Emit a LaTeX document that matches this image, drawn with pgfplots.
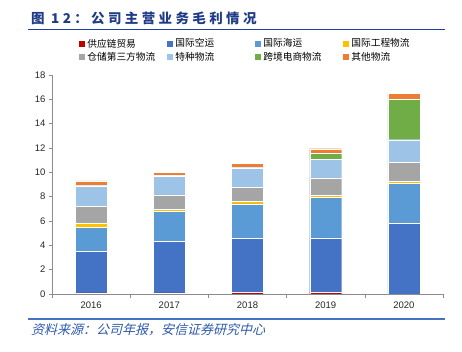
\documentclass[border=0pt]{standalone}
\usepackage{pgfplots}
\pgfplotsset{compat=1.18}
\usepackage{pgfplotstable}
\usepackage{fontspec}
\setmainfont{Liberation Sans}
\newfontfamily\cjk{Noto Sans CJK SC}
\newfontfamily\cjktitle[LetterSpace=25]{Noto Sans CJK SC}
\newfontfamily\cjksrc[FakeSlant=0.25]{Noto Sans CJK SC}
\definecolor{cRed}{HTML}{C00000}
\definecolor{cDBlue}{HTML}{4472C4}
\definecolor{cMBlue}{HTML}{5B9BD5}
\definecolor{cYellow}{HTML}{FFC000}
\definecolor{cGray}{HTML}{A5A5A5}
\definecolor{cLBlue}{HTML}{9DC3E6}
\definecolor{cGreen}{HTML}{70AD47}
\definecolor{cOrange}{HTML}{ED7D31}
\definecolor{titleBlue}{HTML}{1F3C88}
\definecolor{lineBlue}{HTML}{1C3FA0}
\definecolor{srcBlue}{HTML}{2E5AAC}
\definecolor{axGray}{HTML}{8C8C8C}

\pgfplotstableread{
x red dblue mblue yellow gray lblue green orange
0 0.10 3.42 1.97 0.36 1.36 1.69 0.05 0.34
1 0.10 4.24 2.44 0.19 1.17 1.56 0.05 0.25
2 0.16 4.43 2.81 0.22 1.13 1.63 0.02 0.34
3 0.16 4.46 3.30 0.17 1.45 1.55 0.47 0.38
4 0.00 5.83 3.25 0.16 1.56 1.88 3.30 0.50
}\datatable

\newcommand{\legtxt}[1]{\makebox[78pt][l]{\cjk #1}}

\begin{document}
\begin{tikzpicture}
\path[use as bounding box] (0pt,0pt) rectangle (462pt,352pt);
\node[anchor=west, text=titleBlue, font=\cjktitle\bfseries\fontsize{13.5}{15}\selectfont, inner sep=0pt] at (31pt,334pt) {图 12：公司主营业务毛利情况};
\draw[lineBlue, line width=1.5pt] (28pt,322.7pt) -- (445pt,322.7pt);
\draw[cDBlue, line width=2pt] (28pt,32.7pt) -- (445pt,32.7pt);
\node[anchor=west, text=srcBlue, font=\cjksrc\fontsize{13}{15}\selectfont, inner sep=0pt] at (31pt,22pt) {资料来源：公司年报，安信证券研究中心};
\begin{axis}[
  at={(52pt,58pt)}, anchor=south west,
  scale only axis, width=391pt, height=219pt,
  ybar stacked, bar width=32pt,
  xmin=-0.5, xmax=4.5, ymin=0, ymax=18,
  ytick={0,2,...,18},
  xtick={0,1,2,3,4},
  xticklabels={2016,2017,2018,2019,2020},
  minor xtick={-0.5,0.5,1.5,2.5,3.5,4.5},
  major x tick style={draw=none},
  minor tick length=4pt,
  major tick length=3pt,
  tick align=outside,
  axis x line*=bottom, axis y line*=left,
  axis line style={axGray, line width=0.8pt, -},
  tick style={axGray, line width=0.6pt},
  ytick style={axGray},
  /pgf/number format/assume math mode=true,
  ticklabel style={font=\fontsize{9.5}{10}\selectfont, text=black!85},
  xticklabel style={yshift=-1pt},
  every axis plot/.append style={draw=white, line width=0.4pt},
  legend columns=4,
  legend cell align=left,
  legend style={draw=none, fill=none, at={(0.062,1.18)}, anchor=north west,
    font=\fontsize{9.7}{11}\selectfont, row sep=1.5pt,
    nodes={inner xsep=2pt, inner ysep=1pt}},
  legend image code/.code={\fill[#1,draw=none] (0pt,-3pt) rectangle (6pt,3pt);},
]
\addplot[fill=cRed] table[x=x,y=red]{\datatable};
\addlegendentry{\legtxt{供应链贸易}}
\addplot[fill=cDBlue] table[x=x,y=dblue]{\datatable};
\addlegendentry{\legtxt{国际空运}}
\addplot[fill=cMBlue] table[x=x,y=mblue]{\datatable};
\addlegendentry{\legtxt{国际海运}}
\addplot[fill=cYellow] table[x=x,y=yellow]{\datatable};
\addlegendentry{\legtxt{国际工程物流}}
\addplot[fill=cGray] table[x=x,y=gray]{\datatable};
\addlegendentry{\legtxt{仓储第三方物流}}
\addplot[fill=cLBlue] table[x=x,y=lblue]{\datatable};
\addlegendentry{\legtxt{特种物流}}
\addplot[fill=cGreen] table[x=x,y=green]{\datatable};
\addlegendentry{\legtxt{跨境电商物流}}
\addplot[fill=cOrange] table[x=x,y=orange]{\datatable};
\addlegendentry{\legtxt{其他物流}}
\end{axis}
\end{tikzpicture}
\end{document}
